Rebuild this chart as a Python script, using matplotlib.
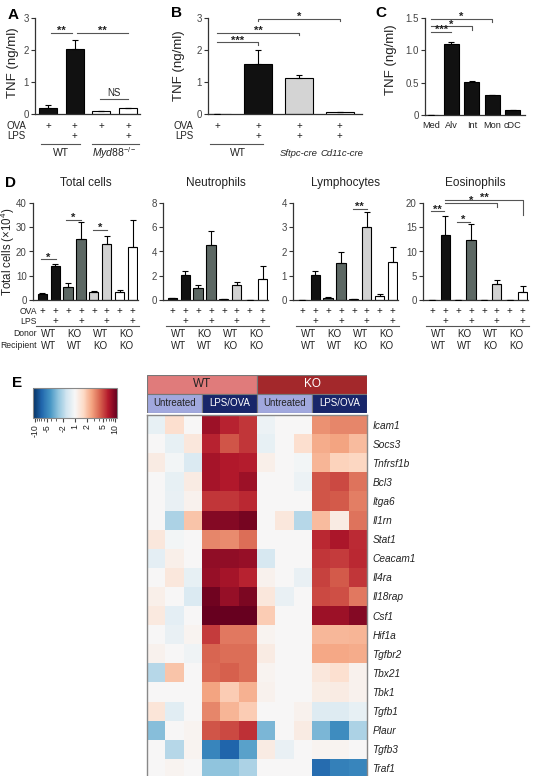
import numpy as np
import matplotlib
matplotlib.use("Agg")
import matplotlib.pyplot as plt
import matplotlib.transforms as mtrans
from matplotlib.patches import Rectangle

plt.rcParams['font.family'] = ['Liberation Sans', 'DejaVu Sans']
plt.rcParams['mathtext.fontset'] = 'custom'
plt.rcParams['mathtext.rm'] = 'Liberation Sans'
plt.rcParams['mathtext.it'] = 'Liberation Sans:italic'

# ---------------- data ----------------
a_vals = [0.20, 2.02, 0.08, 0.18]
a_err = [0.07, 0.28, 0.02, 0.02]
a_ova = ['+', '+', '+', '+']
a_lps = ['', '+', '', '+']
a_fill = ['#111111', '#111111', 'white', 'white']

b_vals = [0.0, 1.55, 1.12, 0.05]
b_err = [0.0, 0.45, 0.10, 0.0]
b_ova = ['+', '+', '+', '+']
b_lps = ['', '+', '+', '+']
b_fill = ['#111111', '#111111', '#d4d4d4', 'white']

c_labels = ['Med', 'Alv', 'Int', 'Mon', 'cDC']
c_vals = [0.0, 1.10, 0.51, 0.31, 0.07]
c_err = [0.0, 0.025, 0.01, 0.005, 0.003]

d_titles = ['Total cells', 'Neutrophils', 'Lymphocytes', 'Eosinophils']
d_total = [2.5, 14.0, 5.5, 25.0, 3.2, 23.0, 3.3, 22.0]
d_total_err = [0.5, 1.0, 1.5, 7.0, 0.6, 3.5, 0.9, 11.0]
d_neut = [0.15, 2.05, 0.95, 4.55, 0.05, 1.2, 0.03, 1.75]
d_neut_err = [0.05, 0.35, 0.3, 1.15, 0.0, 0.3, 0.0, 1.05]
d_lymph = [0.01, 1.05, 0.07, 1.52, 0.03, 3.0, 0.15, 1.55]
d_lymph_err = [0.0, 0.13, 0.05, 0.45, 0.0, 0.62, 0.1, 0.65]
d_eos = [0.0, 13.5, 0.0, 12.3, 0.0, 3.2, 0.0, 1.7]
d_eos_err = [0.0, 3.8, 0.0, 3.3, 0.0, 0.9, 0.0, 1.2]
d_ylims = [40, 8, 4, 20]
d_yticks = [[0, 10, 20, 30, 40], [0, 2, 4, 6, 8], [0, 1, 2, 3, 4], [0, 5, 10, 15, 20]]
d_donor = ['WT', 'KO', 'WT', 'KO']
d_recipient = ['WT', 'WT', 'KO', 'KO']
d_ova = ['+'] * 8
d_lps = ['', '+'] * 4
d_fill = ['#111111', '#111111', '#5d6864', '#5d6864', '#d2d2d2', '#d2d2d2', 'white', 'white']

genes = ['Icam1', 'Socs3', 'Tnfrsf1b', 'Bcl3', 'Itga6', 'Il1rn', 'Stat1', 'Ceacam1',
         'Il4ra', 'Il18rap', 'Csf1', 'Hif1a', 'Tgfbr2', 'Tbx21', 'Tbk1', 'Tgfb1',
         'Plaur', 'Tgfb3', 'Traf1']
# log2 fold change, columns: WT untreated x3, WT LPS/OVA x3, KO untreated x3, KO LPS/OVA x3
heat = np.array([
    [-0.3, 0.6, 0.0, 3.0, 2.7, 2.5, -0.2, 0.0, 0.0, 1.6, 1.7, 1.7],
    [0.0, -0.3, 0.4, 2.7, 2.2, 2.5, -0.3, 0.0, 0.6, 1.3, 1.4, 1.1],
    [0.3, -0.1, -0.5, 2.9, 2.8, 2.75, 0.2, 0.0, -0.1, 1.2, 0.8, 0.75],
    [0.0, -0.3, 0.3, 2.9, 2.8, 3.0, 0.0, 0.0, -0.2, 2.2, 2.3, 1.9],
    [0.0, -0.25, 0.15, 2.5, 2.5, 2.65, 0.0, 0.0, 0.0, 2.2, 2.15, 1.8],
    [0.0, -1.1, 1.0, 3.2, 3.2, 3.35, 0.0, 0.4, -1.0, 1.1, 0.3, 1.9],
    [0.4, -0.1, 0.0, 1.7, 1.65, 1.95, 0.0, 0.0, 0.0, 2.65, 2.85, 2.6],
    [-0.35, 0.2, 0.0, 3.1, 3.1, 3.05, -0.6, 0.0, 0.0, 2.5, 2.45, 2.65],
    [0.0, 0.4, -0.3, 3.05, 2.9, 2.7, 0.15, 0.0, -0.25, 2.4, 2.15, 2.5],
    [0.2, 0.0, -0.5, 3.4, 3.05, 3.3, 0.4, -0.25, 0.0, 2.3, 2.25, 1.85],
    [0.35, -0.35, 0.0, 3.5, 3.5, 3.5, 0.9, 0.0, 0.0, 3.0, 3.0, 3.2],
    [0.0, -0.25, 0.1, 2.45, 1.85, 1.85, 0.1, 0.0, 0.0, 1.15, 1.15, 1.2],
    [0.15, 0.0, -0.15, 2.05, 1.95, 1.95, 0.3, 0.0, 0.0, 1.35, 1.35, 1.3],
    [-1.0, 1.0, 0.0, 2.0, 2.1, 1.95, 0.1, 0.0, 0.0, 0.4, 0.55, 0.15],
    [0.0, 0.0, 0.0, 1.4, 0.9, 1.25, 0.15, 0.0, 0.0, 0.25, 0.3, 0.15],
    [0.45, -0.4, 0.0, 1.7, 1.2, 0.9, 0.0, 0.0, 0.15, -0.45, -0.45, -0.3],
    [-1.5, 0.0, 0.1, 2.2, 2.3, 2.55, -1.6, 0.0, 0.3, -1.6, -2.2, -1.1],
    [0.0, -1.0, 0.1, -2.3, -2.8, -1.9, 0.3, -0.25, 0.0, 0.1, 0.1, 0.0],
    [0.0, 0.1, 0.0, -1.4, -1.4, -1.1, 0.0, 0.0, 0.0, -2.7, -2.4, -2.3],
])
cbar_labels = [-10, -5, -2, 1, 2, 5, 10]
genotype_labels = ['WT', 'KO']
treat_labels = ['Untreated', 'LPS/OVA', 'Untreated', 'LPS/OVA']

# ---------------- layout helpers ----------------
W, H = 542, 776
fig = plt.figure(figsize=(W / 100, H / 100), dpi=100)


def rect(l, t, r, b):
    return [l / W, 1 - b / H, (r - l) / W, (b - t) / H]


def fy(ypx):
    return 1 - ypx / H


AXC = '#333333'
TKC = '#444444'


def style(ax):
    for s in ['top', 'right']:
        ax.spines[s].set_visible(False)
    for s in ['left', 'bottom']:
        ax.spines[s].set_color(AXC)
        ax.spines[s].set_linewidth(0.9)
    ax.tick_params(axis='y', direction='out', length=3, width=0.8, color=AXC,
                   labelsize=7, labelcolor=TKC, pad=1.5)
    ax.tick_params(axis='x', length=0, labelbottom=False)


def ylabel_at(ax, text, xpx, ycpx, fs):
    fig.text(xpx / W, fy(ycpx), text, rotation=90, ha='center', va='center',
             fontsize=fs, color='#222222')


def bars(ax, vals, err, fills, width):
    x = np.arange(len(vals))
    ax.bar(x, vals, width=width, color=fills, edgecolor='black', linewidth=0.8, zorder=2)
    ax.errorbar(x, vals, yerr=[np.zeros(len(err)), err], fmt='none', ecolor='black',
                elinewidth=0.8, capsize=2.2, capthick=0.8, zorder=3)
    return x


def bracket(ax, x0, x1, y, text, drop_l=0.0, drop_r=0.0, fs=8, bold=True):
    xs = [x0, x0, x1, x1]
    ys = [y - drop_l, y, y, y - drop_r]
    ax.plot(xs, ys, color='#555555', lw=0.8, clip_on=False)
    if bold:
        ax.annotate(text, ((x0 + x1) / 2, y), xytext=(0, -0.8), textcoords='offset points',
                    ha='center', va='baseline', fontsize=fs, fontweight='bold',
                    color='#222222', annotation_clip=False)
    else:
        ax.annotate(text, ((x0 + x1) / 2, y), xytext=(0, 1), textcoords='offset points',
                    ha='center', va='bottom', fontsize=fs, color='#222222',
                    annotation_clip=False)


def row_text(ax, x, labels, ypx, fs=7, **kw):
    tr = mtrans.blended_transform_factory(ax.transData, fig.transFigure)
    for xi, lab in zip(x, labels):
        ax.text(xi, fy(ypx), lab, transform=tr, ha='center', va='center', fontsize=fs,
                color='#222222', **kw)


def hline(ax, x0, x1, ypx):
    tr = mtrans.blended_transform_factory(ax.transData, fig.transFigure)
    ax.plot([x0, x1], [fy(ypx), fy(ypx)], transform=tr, color='#555555', lw=0.8,
            clip_on=False)


# ---------------- panel A ----------------
axA = fig.add_axes(rect(35, 18, 140, 114))
style(axA)
xA = bars(axA, a_vals, a_err, a_fill, 0.68)
axA.set_xlim(-0.49, 3.45)
axA.set_ylim(0, 3)
axA.set_yticks([0, 1, 2, 3])
ylabel_at(axA, 'TNF (ng/ml)', 13, 63, 9.5)
bracket(axA, 0.1, 0.9, 2.53, '**')
bracket(axA, 1.1, 3.0, 2.53, '**')
bracket(axA, 1.95, 3.0, 0.47, 'NS', fs=7, bold=False)
row_text(axA, xA, a_ova, 126)
row_text(axA, xA, a_lps, 136)
fig.text(26 / W, fy(126), 'OVA', ha='right', va='center', fontsize=7, color='#222222')
fig.text(26 / W, fy(136), 'LPS', ha='right', va='center', fontsize=7, color='#222222')
hline(axA, -0.25, 1.2, 144)
hline(axA, 1.65, 3.4, 144)
row_text(axA, [0.5], ['WT'], 153, fs=7.5)
row_text(axA, [2.5], [r'$\mathit{Myd88}^{-/-}$'], 153, fs=7.5)
fig.text(8 / W, fy(15), 'A', fontsize=11, fontweight='bold', va='center')

# ---------------- panel B ----------------
axB = fig.add_axes(rect(208, 18, 362, 114))
style(axB)
xB = bars(axB, b_vals, b_err, b_fill, 0.68)
axB.set_xlim(-0.22, 3.54)
axB.set_ylim(0, 3)
axB.set_yticks([0, 1, 2, 3])
ylabel_at(axB, 'TNF (ng/ml)', 179, 66, 9.5)
bracket(axB, 0.0, 1.0, 2.24, '***', drop_r=0.07)
bracket(axB, 0.0, 2.0, 2.53, '**', drop_r=0.07)
bracket(axB, 1.0, 3.0, 2.97, '*', drop_l=0.07, drop_r=0.07)
row_text(axB, xB, b_ova, 126)
row_text(axB, xB, b_lps, 136)
fig.text(193 / W, fy(126), 'OVA', ha='right', va='center', fontsize=7, color='#222222')
fig.text(193 / W, fy(136), 'LPS', ha='right', va='center', fontsize=7, color='#222222')
hline(axB, -0.17, 1.12, 144)
row_text(axB, [0.5], ['WT'], 153, fs=7.5)
row_text(axB, [2], ['Sftpc-cre'], 153, fs=6.8, style='italic')
row_text(axB, [3.05], ['Cd11c-cre'], 153, fs=6.8, style='italic')
fig.text(171 / W, fy(13), 'B', fontsize=11, fontweight='bold', va='center')

# ---------------- panel C ----------------
axC = fig.add_axes(rect(425, 18, 525, 115))
style(axC)
xC = bars(axC, c_vals, c_err, ['#111111'] * 5, 0.73)
axC.set_xlim(-0.29, 4.59)
axC.set_ylim(0, 1.5)
axC.set_yticks([0, 0.5, 1.0, 1.5])
axC.set_yticklabels(['0', '0.5', '1.0', '1.5'])
ylabel_at(axC, 'TNF (ng/ml)', 391, 60, 9.5)
bracket(axC, 0.0, 1.0, 1.28, '***')
bracket(axC, 0.0, 2.0, 1.37, '*', drop_r=0.05)
bracket(axC, 0.0, 3.0, 1.49, '*', drop_r=0.05)
row_text(axC, xC, c_labels, 126, fs=6.6)
fig.text(375 / W, fy(13), 'C', fontsize=11, fontweight='bold', va='center')

# ---------------- panel D ----------------
d_lefts = [33, 163, 293, 423]
d_data = [(d_total, d_total_err), (d_neut, d_neut_err), (d_lymph, d_lymph_err), (d_eos, d_eos_err)]
d_axes = []
for i in range(4):
    l = d_lefts[i]
    ax = fig.add_axes(rect(l, 203, l + 105, 300))
    style(ax)
    vals, err = d_data[i]
    x = bars(ax, vals, err, d_fill, 0.7)
    ax.set_xlim(-0.7, 7.4)
    ax.set_ylim(0, d_ylims[i])
    ax.set_yticks(d_yticks[i])
    ax.set_title(d_titles[i], fontsize=8.5, pad=12.5, color='#222222')
    row_text(ax, x, d_ova, 311)
    row_text(ax, x, d_lps, 321)
    for g in range(4):
        hline(ax, 2 * g - 0.45, 2 * g + 1.45, 326)
    row_text(ax, [2 * g + 0.5 for g in range(4)], d_donor, 334)
    row_text(ax, [2 * g + 0.5 for g in range(4)], d_recipient, 346)
    d_axes.append(ax)

ylabel_at(d_axes[0], r'Total cells (×10$^{4}$)', 8, 252, 8.3)
for lab, ypx in zip(['OVA', 'LPS', 'Donor', 'Recipient'], [311, 321, 334, 346]):
    fig.text(37 / W, fy(ypx), lab, ha='right', va='center', fontsize=6.2, color='#222222')
bracket(d_axes[0], -0.1, 1.1, 16.8, '*')
bracket(d_axes[0], 1.85, 3.0, 32.9, '*')
bracket(d_axes[0], 3.9, 5.0, 28.8, '*')
bracket(d_axes[2], 3.9, 5.0, 3.77, '**')
bracket(d_axes[3], -0.1, 0.95, 18.3, '**')
bracket(d_axes[3], 1.9, 2.95, 16.1, '*')
bracket(d_axes[3], 1.0, 5.0, 20.0, '*', drop_r=0.8)
bracket(d_axes[3], 1.0, 7.0, 20.7, '**', drop_r=3.2)
fig.text(5 / W, fy(183), 'D', fontsize=11, fontweight='bold', va='center')

# ---------------- panel E ----------------
fig.text(12 / W, fy(383), 'E', fontsize=11, fontweight='bold', va='center')
vlim = 3.5
axH = fig.add_axes(rect(147, 415, 367, 415 + 19 * 19.1))
mesh = axH.pcolormesh(np.arange(13), np.arange(20), heat, cmap='RdBu_r', vmin=-vlim, vmax=vlim)
axH.set_xlim(0, 12)
axH.set_ylim(19, 0)
axH.set_xticks([])
axH.yaxis.tick_right()
axH.set_yticks(np.arange(19) + 0.5)
axH.set_yticklabels(genes, fontsize=7.3, style='italic', color='#222222')
axH.tick_params(axis='y', length=0, pad=4)
for s in axH.spines.values():
    s.set_color('#888888')
    s.set_linewidth(1.0)

# header
axG = fig.add_axes(rect(147, 375, 367, 413))
axG.set_xlim(0, 12)
axG.set_ylim(2, 0)
axG.axis('off')
gcols = ['#e07b7b', '#a3282b']
gtc = ['#222222', 'white']
for g in range(2):
    axG.add_patch(Rectangle((6 * g, 0), 6, 1, facecolor=gcols[g], edgecolor='#777777', lw=0.8))
    axG.text(6 * g + 3, 0.5, genotype_labels[g], ha='center', va='center', fontsize=8.5,
             color=gtc[g])
tcols = ['#a1a8de', '#18266a', '#a1a8de', '#18266a']
ttc = ['#222222', 'white', '#222222', 'white']
for k in range(4):
    axG.add_patch(Rectangle((3 * k, 1), 3, 1, facecolor=tcols[k], edgecolor='#777777', lw=0.8))
    axG.text(3 * k + 1.5, 1.5, treat_labels[k], ha='center', va='center', fontsize=7,
             color=ttc[k])

# colorbar
cax = fig.add_axes(rect(33, 388, 117, 418))
cb = fig.colorbar(mesh, cax=cax, orientation='horizontal')
tick_pos = [np.sign(v) * np.log2(abs(v)) for v in cbar_labels]
cb.set_ticks(tick_pos)
cb.set_ticklabels([str(v) for v in cbar_labels])
minor = []
for m in range(3, 10):
    if m != 5:
        minor += [np.log2(m), -np.log2(m)]
cax.set_xticks(minor, minor=True)
cax.tick_params(axis='x', which='major', length=3, labelsize=6.3, labelrotation=90, pad=1.5,
                color='#444444', labelcolor='#222222')
cax.tick_params(axis='x', which='minor', length=2, color='#444444')
cb.outline.set_edgecolor('#888888')
cb.outline.set_linewidth(0.8)

fig.savefig('out.png', dpi=100)
